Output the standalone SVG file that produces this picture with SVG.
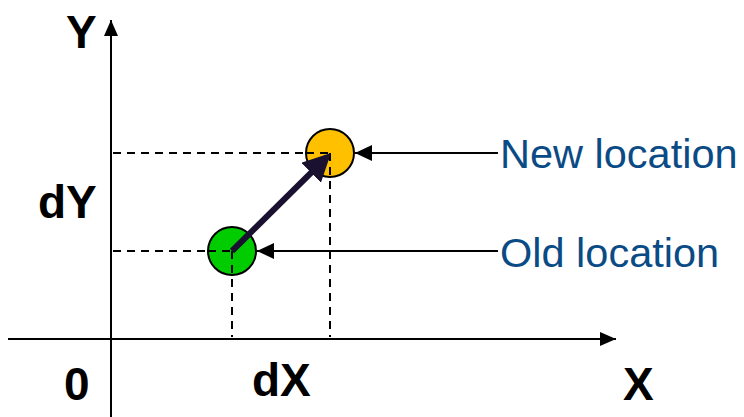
<svg xmlns="http://www.w3.org/2000/svg" width="744" height="417" viewBox="0 0 744 417">
<defs>
<marker id="axh" viewBox="0 0 16 14" refX="16" refY="7" markerWidth="16" markerHeight="14" markerUnits="userSpaceOnUse" orient="auto"><path d="M0,0 L16,7 L0,14 z" fill="#000"/></marker>
<marker id="ptr" viewBox="0 0 17 16" refX="17" refY="8" markerWidth="17" markerHeight="16" markerUnits="userSpaceOnUse" orient="auto"><path d="M0,0 L17,8 L0,16 z" fill="#000"/></marker>
<marker id="big" viewBox="0 0 10 10" refX="8" refY="5" markerWidth="28" markerHeight="28" markerUnits="userSpaceOnUse" orient="auto"><path d="M0,0 L10,5 L0,10 z" fill="#1a1030"/></marker>
</defs>
<style>
.ax{stroke:#000;stroke-width:2;fill:none}
.dash{stroke:#000;stroke-width:2;stroke-dasharray:8,6;fill:none}
.ptr{stroke:#000;stroke-width:2;fill:none}
.lbl{font-family:"Liberation Sans",Arial,sans-serif;font-weight:bold;font-size:46px;fill:#000}
.loc{font-family:"Liberation Sans",Arial,sans-serif;font-size:41.5px;fill:#0b4b85}
.c{stroke:#000;stroke-width:2}
</style>
<g id="axes">
<line class="ax" x1="111" y1="417" x2="111" y2="20" marker-end="url(#axh)"/>
<line class="ax" x1="8" y1="339" x2="616" y2="339" marker-end="url(#axh)"/>
</g>
<g id="guides">
<line class="dash" x1="113" y1="153" x2="330" y2="153"/>
<line class="dash" x1="113" y1="251" x2="232" y2="251"/>
<line class="dash" x1="232" y1="251" x2="232" y2="337"/>
<line class="dash" x1="330" y1="153" x2="330" y2="337"/>
</g>
<g id="old-node"><circle class="c" cx="232" cy="251" r="24" fill="#00cc00"/></g>
<g id="new-node"><circle class="c" cx="330" cy="153" r="24" fill="#ffc000"/></g>
<g id="guides-over">
<line class="dash" x1="208" y1="251" x2="232" y2="251"/>
<line class="dash" x1="232" y1="251" x2="232" y2="275"/>
<line class="dash" x1="306" y1="153" x2="330" y2="153"/>
<line class="dash" x1="330" y1="153" x2="330" y2="177"/>
</g>
<g id="connectors">
<line x1="232" y1="251" x2="327" y2="157" stroke="#1a1030" stroke-width="6" marker-end="url(#big)"/>
<line class="ptr" x1="498" y1="153" x2="355" y2="153" marker-end="url(#ptr)"/>
<line class="ptr" x1="498" y1="251" x2="257" y2="251" marker-end="url(#ptr)"/>
</g>
<g id="labels">
<text class="lbl" x="66" y="48">Y</text>
<text class="lbl" x="38" y="218">dY</text>
<text class="lbl" x="64" y="400">0</text>
<text class="lbl" x="252" y="396">dX</text>
<text class="lbl" x="623" y="400">X</text>
<text class="loc" x="500" y="168">New location</text>
<text class="loc" x="500" y="267">Old location</text>
</g>
</svg>
